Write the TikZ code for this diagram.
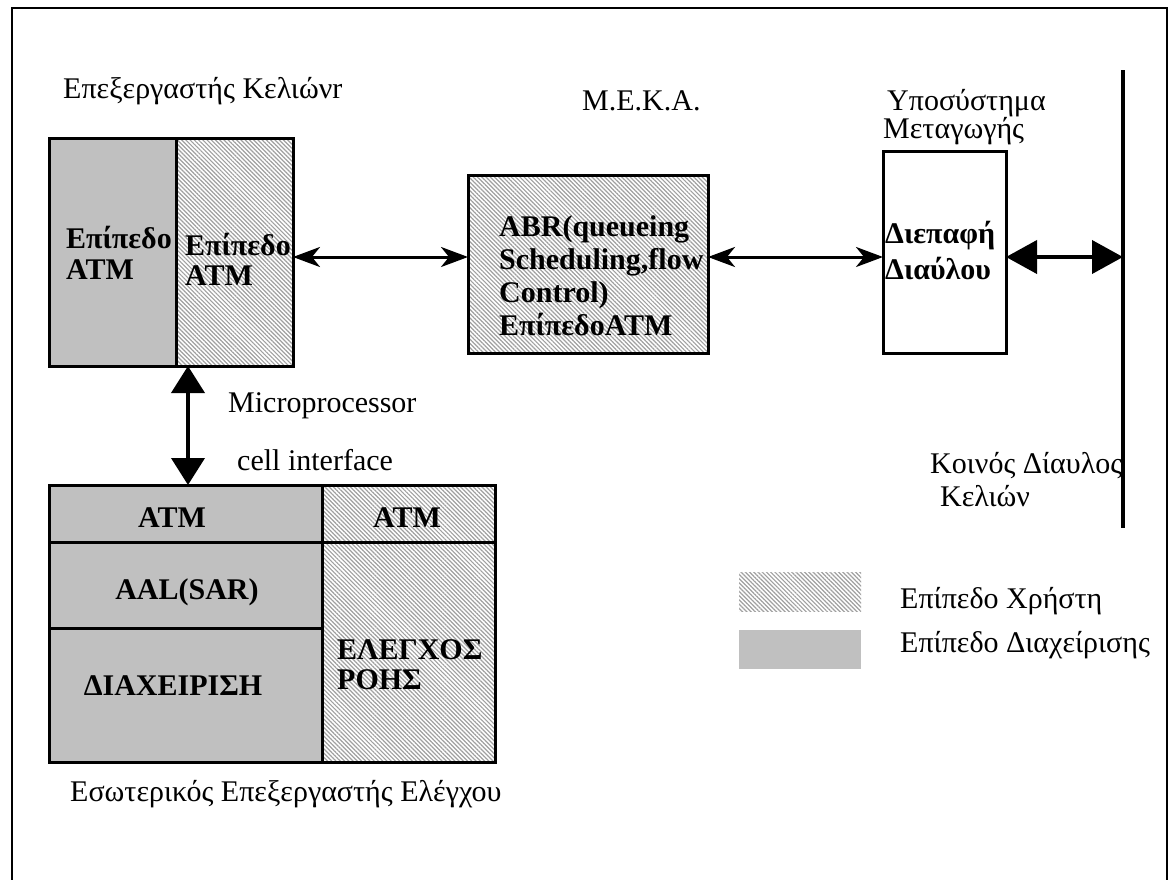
\documentclass[tikz,border=0pt]{standalone}
\usepackage{fontspec}
\setmainfont{Liberation Serif}
\usetikzlibrary{arrows.meta,patterns.meta}
\definecolor{mgmtgray}{RGB}{192,192,192}
\definecolor{hatchgray}{RGB}{160,160,160}
\begin{document}
\begin{tikzpicture}[x=1pt,y=-1pt,
  box/.style={draw, line width=3pt, inner sep=0pt, outer sep=0pt, rectangle},
  mgmt/.style={box, fill=mgmtgray},
  user/.style={box, pattern={Lines[angle=-45,distance=3pt,line width=1.2pt]}, pattern color=hatchgray},
  lgmgmt/.style={rectangle, inner sep=0pt, outer sep=0pt, fill=mgmtgray},
  lguser/.style={rectangle, inner sep=0pt, outer sep=0pt, pattern={Lines[angle=-45,distance=3pt,line width=1.2pt]}, pattern color=hatchgray},
  lbl/.style={font=\fontsize{30}{33}\selectfont, inner sep=0pt, anchor=base west},
  blbl/.style={font=\bfseries\fontsize{30}{33}\selectfont, inner sep=0pt, anchor=base west},
  bclbl/.style={font=\bfseries\fontsize{30}{33}\selectfont, inner sep=0pt, anchor=base},
  thinarrow/.style={line width=3pt, {Stealth[length=27pt,width=20pt,inset=8pt]}-{Stealth[length=27pt,width=20pt,inset=8pt]}},
  bigarrow/.style={line width=4pt, {Triangle[length=31pt,width=33pt]}-{Triangle[length=31pt,width=33pt]}},
  vbigarrow/.style={line width=4pt, {Triangle[length=27pt,width=33pt]}-{Triangle[length=27pt,width=33pt]}}
]
\fill[white] (0,0) rectangle (1173,879);
\useasboundingbox (0,0) rectangle (1173,879);
% outer frame
\draw[line width=2.5pt] (12,882) -- (12,8) -- (1167,8) -- (1167,882);

% top-left cell processor
\node[mgmt, minimum width=127pt, minimum height=228pt] (tlL) at (112.5,252) {};
\node[user, minimum width=117pt, minimum height=228pt] (tlR) at (234.5,252) {};
\node[lbl] (t1) at (63,98) {Επεξεργαστής Κελιώνr};
\node[blbl] (tlL1) at (66,248) {Επίπεδο};
\node[blbl] (tlL2) at (66,279) {ATM};
\node[blbl] (tlR1) at (185,255) {Επίπεδο};
\node[blbl] (tlR2) at (185,285) {ATM};

% ABR box
\node[user, minimum width=240pt, minimum height=178pt] (abr) at (588,264) {};
\node[lbl] (tmeka) at (582,110) {Μ.Ε.Κ.Α.};
\node[blbl] (abr1) at (499,236) {ABR(queueing};
\node[blbl] (abr2) at (499,269) {Scheduling,flow};
\node[blbl] (abr3) at (499,302) {Control)};
\node[blbl] (abr4) at (499,335) {ΕπίπεδοATM};

% switching subsystem
\node[box, fill=white, minimum width=123pt, minimum height=202pt] (sw) at (944.5,252) {};
\node[lbl] (tsw1) at (887,110) {Υποσύστημα};
\node[lbl] (tsw2) at (883,138) {Μεταγωγής};
\node[blbl] (sw1) at (885,243) {Διεπαφή};
\node[blbl] (sw2) at (885,279) {Διαύλου};

% bus
\coordinate (bustop) at (1123,70);
\coordinate (busbot) at (1123,528);
\coordinate (busmid) at (1123,257);
\draw[line width=4pt] (bustop) -- (busbot);
\node[lbl] (bus1) at (930,473) {Κοινός Δίαυλος};
\node[lbl] (bus2) at (940,506) {Κελιών};

% bottom control processor
\node[mgmt, minimum width=273pt, minimum height=57pt] (bATM) at (185.5,513.5) {};
\node[mgmt, minimum width=273pt, minimum height=86pt] (bAAL) at (185.5,585) {};
\node[mgmt, minimum width=273pt, minimum height=134pt] (bMgt) at (185.5,695) {};
\node[user, minimum width=173pt, minimum height=57pt] (bATM2) at (408.5,513.5) {};
\node[user, minimum width=173pt, minimum height=220pt] (bFlow) at (408.5,652) {};
\node[bclbl] (tbATM) at (172,527) {ATM};
\node[bclbl] (tbAAL) at (187,599) {AAL(SAR)};
\node[bclbl] (tbMgt) at (173,695) {ΔΙΑΧΕΙΡΙΣΗ};
\node[blbl] (tbATM2) at (373,527) {ATM};
\node[blbl] (tbFlow1) at (337,659) {ΕΛΕΓΧΟΣ};
\node[blbl] (tbFlow2) at (337,689) {ΡΟΗΣ};
\node[lbl] (tbot) at (70,801) {Εσωτερικός Επεξεργαστής Ελέγχου};
\node[lbl] (tmp1) at (228,412) {Microprocessor};
\node[lbl] (tmp2) at (237,470) {cell interface};

% legend
\node[lguser, minimum width=122pt, minimum height=39pt] (lgU) at (800,591.5) {};
\node[lgmgmt, minimum width=122pt, minimum height=39pt] (lgM) at (800,649.5) {};
\node[lbl] (lgUt) at (900,608) {Επίπεδο Χρήστη};
\node[lbl] (lgMt) at (900,652) {Επίπεδο Διαχείρισης};

% connectors
\draw[thinarrow] ([yshift=-5pt]tlR.east) -- ([yshift=7pt]abr.west);
\draw[thinarrow] ([yshift=7pt]abr.east) -- ([yshift=-5pt]sw.west);
\draw[bigarrow] ([yshift=-5pt]sw.east) -- (busmid);
\draw[vbigarrow] ([xshift=12pt]tlR.south west) -- ([xshift=139pt]bATM.north west);
\end{tikzpicture}
\end{document}
